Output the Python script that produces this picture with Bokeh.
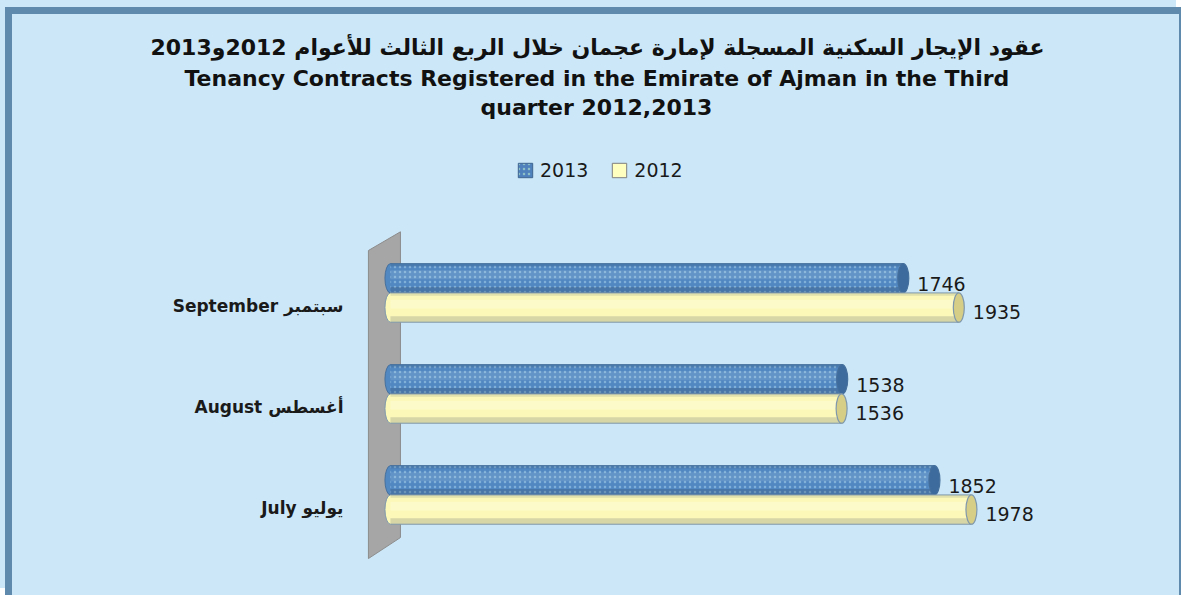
from bokeh.plotting import figure
from bokeh.models import (Range1d, FixedTicker, Title, Legend, LegendItem, ColumnDataSource)
from bokeh.core.properties import value
from bokeh.transform import dodge
from bokeh.embed import file_html
from bokeh.resources import INLINE

# ---------------- data ----------------
months = ["July يوليو", "August أغسطس", "September سبتمبر"]
v2013 = [1852, 1538, 1746]
v2012 = [1978, 1536, 1935]
series_names = ["2013", "2012"]
title_ar = "عقود الإيجار السكنية المسجلة لإمارة عجمان خلال الربع الثالث للأعوام 2012و2013"
title_en1 = "Tenancy Contracts Registered in the Emirate of Ajman in the Third"
title_en2 = "quarter 2012,2013"

# ---------------- style ----------------
BG = "#cce8f8"
BORDER = "#608aad"
BLUE = "#5288c2"
BLUE_DARK = "#3d6b9e"
BLUE_EDGE = "#456f9c"
YEL = "#fcf8b8"
YEL_CAP = "#d6cd86"
YEL_EDGE = "#7f98ab"
FONT = "DejaVu Sans"

pos = list(range(len(months)))
y13 = [p + 0.27 for p in pos]
y12 = [p - 0.02 for p in pos]
BH = 0.29

p = figure(width=1176, height=588, output_backend="svg", toolbar_location=None,
           x_range=Range1d(-119, 2717), y_range=Range1d(-0.94, 3.832),
           x_axis_location=None, min_border_left=343, min_border_right=0,
           min_border_top=106, min_border_bottom=0)
p.styles = {"border-top": f"7px solid {BORDER}", "border-left": f"7px solid {BORDER}",
            "border-right": f"2px solid {BORDER}",
            "margin-top": "7px", "margin-left": "5px",
            "background-color": BG,
            "box-shadow": f"-5px -7px 0 0 {BG}"}
p.background_fill_alpha = 0
p.border_fill_alpha = 0
p.outline_line_color = None
p.grid.visible = False

# y axis
ax = p.yaxis[0]
ax.ticker = FixedTicker(ticks=pos)
ax.major_label_overrides = {i: m for i, m in zip(pos, months)}
ax.axis_line_color = None
ax.major_tick_line_color = None
ax.minor_tick_line_color = None
ax.major_tick_out = 0
ax.major_label_standoff = 12
ax.major_label_text_font = FONT
ax.major_label_text_font_style = "bold"
ax.major_label_text_font_size = "17px"
ax.major_label_text_color = "#1a1a1a"

# titles (added innermost first)
for txt, size, std, off in [(title_en2, "22px", 2, 125), (title_en1, "22px", 2, -171), (title_ar, "22px", 6, -205)]:
    p.add_layout(Title(text=txt, align="left", offset=off, standoff=std,
                       text_font=FONT, text_font_style="bold", text_font_size=size,
                       text_color="#111111"), "above")

src = ColumnDataSource(dict(y13=y13, y12=y12, v13=v2013, v12=v2012, zero=[0] * len(pos),
                            t13=[str(v) for v in v2013], t12=[str(v) for v in v2012]))

# legend swatches: zero-size boxes at the bar origins (hidden behind the bars)
lg13 = p.quad(left="zero", right="zero", top="y13", bottom="y13", source=src,
              fill_color="#4f81bd", line_color="#3f6590",
              hatch_pattern="dot", hatch_color="#9cd0c8", hatch_scale=5, hatch_weight=1.5, hatch_alpha=0.8)
lg12 = p.quad(left="zero", right="zero", top="y12", bottom="y12", source=src,
              fill_color="#ffffc0", line_color="#7f7f7f")

# back wall (decorative)
p.patch(x=[-75, 34, 34, -75], y=[2.545, 2.73, -0.297, -0.505],
        fill_color="#a6a6a6", line_color="#8c8c8c", line_width=1)

def cylinder(ycol, vcol, fill, cap, edge, hatch, top_alpha, bot_alpha):
    p.ellipse(x="zero", y=ycol, width=11, height=BH * 101, width_units="screen",
              height_units="screen", source=src, fill_color=fill, line_color=edge, line_width=1)
    kw = {}
    if hatch:
        kw = dict(hatch_pattern="dot", hatch_color="#9cc9e6", hatch_scale=5, hatch_weight=1.2, hatch_alpha=0.6)
    r = p.hbar(y=ycol, left=0, right=vcol, height=BH, source=src, fill_color=fill, line_color=None, **kw)
    p.hbar(y=dodge(ycol, BH * 0.12, range=p.y_range), left=0, right=vcol, height=BH * 0.3, source=src,
           fill_color="white", fill_alpha=top_alpha, line_color=None)
    p.hbar(y=dodge(ycol, -BH * 0.4, range=p.y_range), left=0, right=vcol, height=BH * 0.2,
           source=src, fill_color="#2a3f5a", fill_alpha=bot_alpha, line_color=None)
    p.hbar(y=dodge(ycol, BH * 0.45, range=p.y_range), left=0, right=vcol, height=BH * 0.1,
           source=src, fill_color="#2a3f5a", fill_alpha=bot_alpha * 0.7, line_color=None)
    p.segment(x0="zero", x1=vcol, y0=dodge(ycol, BH / 2, range=p.y_range), y1=dodge(ycol, BH / 2, range=p.y_range),
              source=src, line_color=edge, line_width=1)
    p.segment(x0="zero", x1=vcol, y0=dodge(ycol, -BH / 2, range=p.y_range), y1=dodge(ycol, -BH / 2, range=p.y_range),
              source=src, line_color=edge, line_width=1)
    p.ellipse(x=vcol, y=ycol, width=11, height=BH * 101, width_units="screen",
              height_units="screen", source=src, fill_color=cap, line_color=edge, line_width=1.2)
    return r

cylinder("y13", "v13", BLUE, BLUE_DARK, BLUE_EDGE, True, 0.10, 0.25)
cylinder("y12", "v12", YEL, YEL_CAP, YEL_EDGE, False, 0.25, 0.18)

# value labels
p.text(x="v13", y="y13", text="t13", source=src, x_offset=14, y_offset=6,
       text_font=value(FONT), text_font_size="19px", text_baseline="middle", text_color="#1a1a1a")
p.text(x="v12", y="y12", text="t12", source=src, x_offset=14, y_offset=4,
       text_font=value(FONT), text_font_size="19px", text_baseline="middle", text_color="#1a1a1a")

legend = Legend(items=[LegendItem(label=series_names[0], renderers=[lg13]),
                       LegendItem(label=series_names[1], renderers=[lg12])],
                orientation="horizontal", location=(161, 421),
                glyph_width=18, glyph_height=18, label_height=20, label_standoff=6, spacing=22,
                padding=0, margin=0, border_line_color=None, background_fill_alpha=0,
                label_text_font=FONT, label_text_font_size="19px", label_text_color="#1a1a1a")
p.add_layout(legend)

open("out.html", "w").write(file_html(p, INLINE))
